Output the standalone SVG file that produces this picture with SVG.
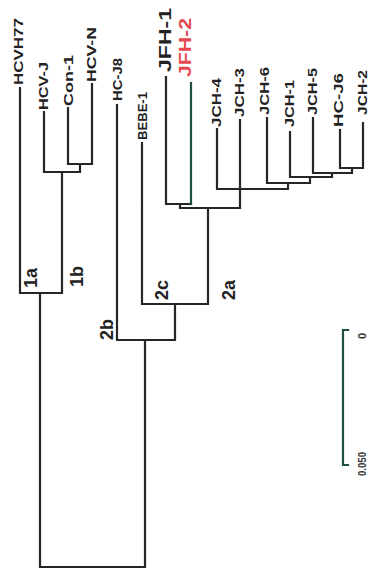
<svg xmlns="http://www.w3.org/2000/svg" width="371" height="569" viewBox="0 0 371 569">
<style>
.e{stroke:#262626;stroke-width:2.2;fill:none;stroke-linecap:square}
.g{stroke:#1f4f45}
.t{font-family:"Liberation Sans",Arial,sans-serif;font-weight:bold;font-size:12.5px;fill:#222}
.c{font-family:"Liberation Sans",Arial,sans-serif;font-weight:bold;font-size:18px;fill:#222}
.s{font-family:"Liberation Sans",Arial,sans-serif;font-weight:bold;font-size:11px;fill:#333}
</style>
<rect width="371" height="569" fill="#fff"/>
<g id="connectors">
<path class="e" d="M20 88V293H62V172M44 112V172H80V164M68 108V164H92V84M40 293V567H145V340"/>
<path class="e" d="M117 105V340H175V304M142 143V304H208V208M166 77V204H180M180 204H191M180 204V208H240"/>
<path class="e g" d="M191 83V204"/>
<path class="e" d="M240 120V208M217 129V189H288V183M267 118V183H310V177M290 132V177H332V173M313 118V173H352V168M340 130V168H363V123"/>
</g>
<g id="HCVH77"><text class="t" transform="translate(23,85) rotate(-90)" textLength="67" lengthAdjust="spacingAndGlyphs">HCVH77</text></g>
<g id="HCV-J"><text class="t" transform="translate(48,110) rotate(-90)" textLength="48" lengthAdjust="spacingAndGlyphs">HCV-J</text></g>
<g id="Con-1"><text class="t" transform="translate(73,106) rotate(-90)" textLength="51" lengthAdjust="spacingAndGlyphs">Con-1</text></g>
<g id="HCV-N"><text class="t" transform="translate(96,82) rotate(-90)" textLength="55" lengthAdjust="spacingAndGlyphs">HCV-N</text></g>
<g id="HC-J8"><text class="t" transform="translate(122,101) rotate(-90)" textLength="43" lengthAdjust="spacingAndGlyphs">HC-J8</text></g>
<g id="BEBE-1"><text class="t" transform="translate(147,140) rotate(-90)" textLength="48" lengthAdjust="spacingAndGlyphs">BEBE-1</text></g>
<g id="JFH-1"><text class="t" style="font-size:16px" transform="translate(171,72) rotate(-90)" textLength="64" lengthAdjust="spacingAndGlyphs">JFH-1</text></g>
<g id="JFH-2"><text class="t" style="font-size:16px;fill:#e5484d" transform="translate(191,77) rotate(-90)" textLength="59" lengthAdjust="spacingAndGlyphs">JFH-2</text></g>
<g id="JCH-4"><text class="t" transform="translate(221,127) rotate(-90)" textLength="49" lengthAdjust="spacingAndGlyphs">JCH-4</text></g>
<g id="JCH-3"><text class="t" transform="translate(244,117) rotate(-90)" textLength="49" lengthAdjust="spacingAndGlyphs">JCH-3</text></g>
<g id="JCH-6"><text class="t" transform="translate(269,115) rotate(-90)" textLength="48" lengthAdjust="spacingAndGlyphs">JCH-6</text></g>
<g id="JCH-1"><text class="t" transform="translate(294,127) rotate(-90)" textLength="47" lengthAdjust="spacingAndGlyphs">JCH-1</text></g>
<g id="JCH-5"><text class="t" transform="translate(317,115) rotate(-90)" textLength="47" lengthAdjust="spacingAndGlyphs">JCH-5</text></g>
<g id="HC-J6"><text class="t" transform="translate(343,127) rotate(-90)" textLength="54" lengthAdjust="spacingAndGlyphs">HC-J6</text></g>
<g id="JCH-2"><text class="t" transform="translate(367,115) rotate(-90)" textLength="45" lengthAdjust="spacingAndGlyphs">JCH-2</text></g>
<g id="clade-labels">
<text class="c" transform="translate(37,288) rotate(-90)">1a</text>
<text class="c" transform="translate(83,287) rotate(-90)">1b</text>
<text class="c" transform="translate(168,300) rotate(-90)">2c</text>
<text class="c" transform="translate(235,300) rotate(-90)">2a</text>
<text class="c" transform="translate(113,340) rotate(-90)">2b</text>
</g>
<g id="scale-bar">
<path class="e g" d="M348 330H343V465H348"/>
<text class="s" transform="translate(366,339) rotate(-90)">0</text>
<text class="s" transform="translate(366,476) rotate(-90)" textLength="24" lengthAdjust="spacingAndGlyphs">0.050</text>
</g>
</svg>
